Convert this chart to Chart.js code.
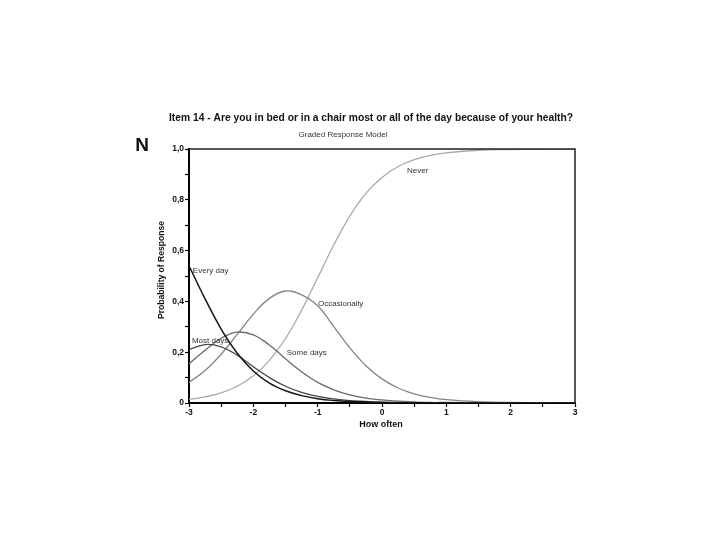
<!DOCTYPE html>
<html>
<head>
<meta charset="utf-8">
<style>
  html, body { margin: 0; padding: 0; background: #fff; }
  #wrap { width: 720px; height: 540px; }
</style>
<script src="https://cdn.jsdelivr.net/npm/chart.js@4.4.1/dist/chart.umd.min.js"></script>
</head>
<body>
<div id="wrap"><canvas id="c" width="720" height="540"></canvas></div>
<script>
// ---- data ----
const xs = [-3, -2.75, -2.5, -2.25, -2, -1.75, -1.5, -1.25, -1, -0.75, -0.5, -0.25, 0, 0.25, 0.5, 0.75, 1, 1.5, 2, 2.5, 3];
const everyDay     = [0.540, 0.410, 0.291, 0.196, 0.126, 0.078, 0.048, 0.029, 0.017, 0.010, 0.006, 0.004, 0.002, 0.001, 0.001, 0.000, 0.000, 0.000, 0.000, 0.000, 0.000];
const mostDays     = [0.210, 0.230, 0.221, 0.188, 0.143, 0.100, 0.066, 0.042, 0.026, 0.016, 0.009, 0.006, 0.003, 0.002, 0.001, 0.001, 0.000, 0.000, 0.000, 0.000, 0.000];
const someDays     = [0.154, 0.208, 0.255, 0.279, 0.268, 0.228, 0.174, 0.123, 0.081, 0.052, 0.032, 0.019, 0.012, 0.007, 0.004, 0.002, 0.002, 0.001, 0.000, 0.000, 0.000];
const occasionally = [0.081, 0.128, 0.192, 0.270, 0.350, 0.412, 0.441, 0.426, 0.383, 0.301, 0.217, 0.147, 0.095, 0.059, 0.036, 0.022, 0.013, 0.005, 0.002, 0.001, 0.000];
const never        = [0.014, 0.024, 0.040, 0.066, 0.107, 0.168, 0.254, 0.365, 0.493, 0.622, 0.736, 0.825, 0.888, 0.931, 0.958, 0.975, 0.985, 0.995, 0.998, 0.999, 1.000];

const seriesNames = ['Every day', 'Most days', 'Some days', 'Occasionally', 'Never'];
const xTickLabels = {'-3': '-3', '-2': '-2', '-1': '-1', '0': '0', '1': '1', '2': '2', '3': '3'};
const yTickLabels = {'0': '0', '0.2': '0,2', '0.4': '0,4', '0.6': '0,6', '0.8': '0,8', '1': '1,0'};

const titleText = 'Item 14 - Are you in bed or in a chair most or all of the day because of your health?';
const subtitleText = 'Graded Response Model';
const panelLetter = 'N';
const xTitle = 'How often';
const yTitle = 'Probability of Response';

// ---- styling ----
const lineColors = ['#151515', '#474747', '#6a6a6a', '#858585', '#a9a9a9'];
const curveLabels = [
  {text: 'Every day',    x: -2.94, y: 0.52},
  {text: 'Most days',    x: -2.955, y: 0.244},
  {text: 'Some days',    x: -1.48, y: 0.197},
  {text: 'Occasionally', x: -0.995, y: 0.39},
  {text: 'Never',        x: 0.39,  y: 0.913}
];

const allSeries = [everyDay, mostDays, someDays, occasionally, never];
const datasets = allSeries.map((arr, i) => ({
  label: seriesNames[i],
  data: xs.map((x, j) => ({x: x, y: arr[j]})),
  borderColor: lineColors[i],
  borderWidth: i === 0 ? 1.5 : 1.3,
  pointRadius: 0,
  fill: false,
  tension: 0.4
}));

const FONT = '"Liberation Sans", Arial, sans-serif';

const decor = {
  id: 'decor',
  afterDatasetsDraw(chart) {
    const ctx = chart.ctx;
    const a = chart.chartArea;
    const sx = chart.scales.x, sy = chart.scales.y;
    ctx.save();
    // top and right frame lines
    ctx.strokeStyle = '#222';
    ctx.lineWidth = 1.5;
    ctx.beginPath();
    ctx.moveTo(a.left, a.top);
    ctx.lineTo(a.right, a.top);
    ctx.lineTo(a.right, a.bottom);
    ctx.stroke();
    // curve labels
    ctx.fillStyle = '#333';
    ctx.font = '8px ' + FONT;
    ctx.textAlign = 'left';
    ctx.textBaseline = 'middle';
    curveLabels.forEach(l => {
      ctx.fillText(l.text, sx.getPixelForValue(l.x), sy.getPixelForValue(l.y));
    });
    // titles
    ctx.fillStyle = '#111';
    ctx.textAlign = 'center';
    ctx.textBaseline = 'middle';
    ctx.font = 'bold 11.5px ' + FONT;
    ctx.fillText(titleText, 371, 118, 404);
    ctx.fillStyle = '#333';
    ctx.font = '8px ' + FONT;
    ctx.fillText(subtitleText, 343, 135);
    ctx.fillStyle = '#111';
    ctx.font = 'bold 19px ' + FONT;
    ctx.fillText(panelLetter, 142, 146);
    // axis titles
    ctx.font = 'bold 9px ' + FONT;
    ctx.fillText(xTitle, 381, 425);
    ctx.translate(162, 270);
    ctx.rotate(-Math.PI / 2);
    ctx.fillText(yTitle, 0, 0, 98);
    ctx.restore();
  }
};

new Chart(document.getElementById('c'), {
  type: 'line',
  data: { datasets: datasets },
  options: {
    responsive: false,
    animation: false,
    events: [],
    layout: { padding: { left: 150, right: 145, top: 149, bottom: 107 } },
    plugins: { legend: { display: false }, tooltip: { enabled: false }, title: { display: false } },
    scales: {
      x: {
        type: 'linear', min: -3, max: 3,
        afterFit(s) { s.height = 30; },
        border: { display: true, color: '#000', width: 2 },
        grid: { drawOnChartArea: false, drawTicks: true, tickLength: 4, color: '#000', tickWidth: 1.2 },
        ticks: {
          stepSize: 0.5, autoSkip: false, maxRotation: 0, padding: 1,
          color: '#111', font: { family: FONT, size: 8.5, weight: 'bold' },
          callback: v => { const k = String(Math.round(v * 100) / 100); return xTickLabels[k] !== undefined ? xTickLabels[k] : ''; }
        }
      },
      y: {
        type: 'linear', min: 0, max: 1,
        afterFit(s) { s.width = 39; },
        border: { display: true, color: '#000', width: 2 },
        grid: { drawOnChartArea: false, drawTicks: true, tickLength: 4, color: '#000', tickWidth: 1.2 },
        ticks: {
          stepSize: 0.1, autoSkip: false, padding: 1,
          color: '#111', font: { family: FONT, size: 8.5, weight: 'bold' },
          callback: v => { const k = String(Math.round(v * 10) / 10); return yTickLabels[k] !== undefined ? yTickLabels[k] : ''; }
        }
      }
    }
  },
  plugins: [decor]
});
</script>
</body>
</html>
